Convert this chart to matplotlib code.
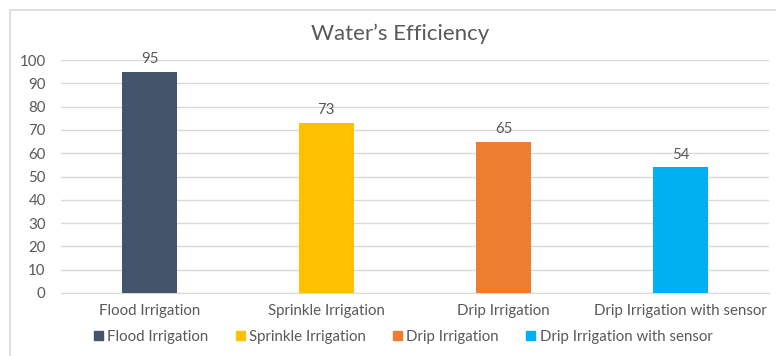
import matplotlib.pyplot as plt
from matplotlib.patches import Rectangle

# data
categories = ['Flood Irrigation', 'Sprinkle Irrigation', 'Drip Irrigation', 'Drip Irrigation with sensor']
efficiency = [95, 73, 65, 54]
bar_colors = ['#44546A', '#FFC000', '#ED7D31', '#00B0F0']
y_ticks = list(range(0, 101, 10))

plt.rcParams['font.family'] = ['Lato', 'DejaVu Sans']
text_grey = '#595959'
fs = 10.8

fig = plt.figure(figsize=(7.76, 3.56), dpi=100)
ax = fig.add_axes([61 / 776, 1 - 293 / 356, (769 - 61) / 776, (293 - 60) / 356])

# light frame around the chart area
fig.patches.append(Rectangle((10 / 776, -0.1), 1.2, 1 - 10 / 356 + 0.1, transform=fig.transFigure,
                             fill=False, edgecolor='#D9D9D9', linewidth=1.2))

x = range(len(categories))
bars = ax.bar(x, efficiency, width=0.31, color=bar_colors, zorder=3)

for b, v in zip(bars, efficiency):
    ax.annotate(str(v), (b.get_x() + b.get_width() / 2, v), xytext=(0, 4),
                textcoords='offset points', ha='center', va='bottom',
                fontsize=fs, color=text_grey)

ax.set_xlim(-0.5, len(categories) - 0.5)
ax.set_ylim(0, 100)
ax.set_yticks(y_ticks)
ax.set_xticks(list(x))
ax.set_xticklabels(categories)
ax.tick_params(axis='both', length=0, colors=text_grey, labelsize=fs)
ax.tick_params(axis='y', pad=11)
ax.tick_params(axis='x', pad=8)
ax.grid(axis='y', color='#D9D9D9', linewidth=1, zorder=0)
for s in ['top', 'right', 'left']:
    ax.spines[s].set_visible(False)
ax.spines['bottom'].set_color('#D9D9D9')

fig.text(400 / 776, 1 - 34 / 356, "Water’s Efficiency", ha='center', va='center',
         fontsize=16, color=text_grey)

handles = [Rectangle((0, 0), 1, 1, color=c) for c in bar_colors]
fig.legend(handles, categories, loc='center', bbox_to_anchor=(403 / 776, 1 - 337 / 356),
           ncol=4, frameon=False, fontsize=fs, labelcolor=text_grey,
           handlelength=0.6, handleheight=0.6, handletextpad=0.3, columnspacing=1.8)

plt.savefig('out.png', dpi=100)
